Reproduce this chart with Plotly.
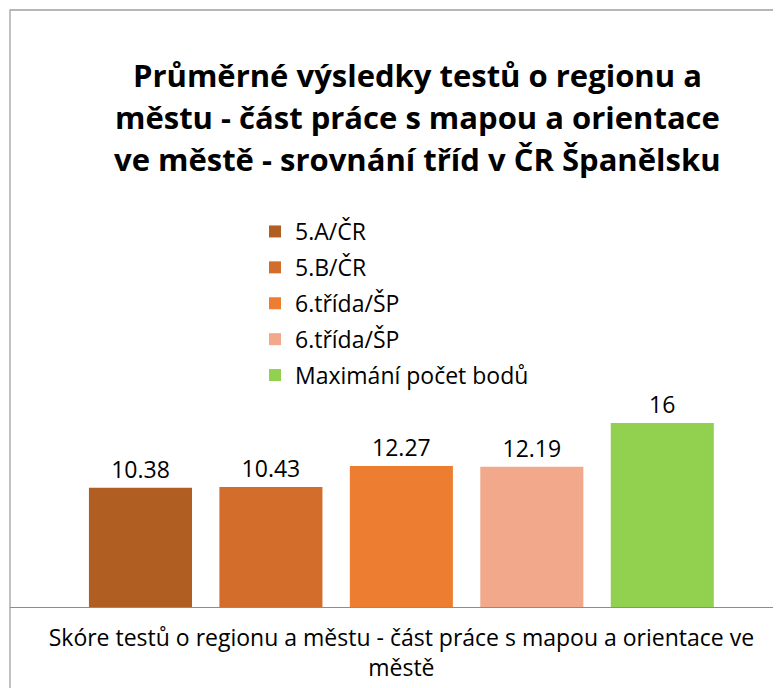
import plotly.graph_objects as go

category = ["Skóre testů o regionu a městu - část práce s mapou a orientace ve<br>městě"]
series_names = ["5.A/ČR", "5.B/ČR", "6.třída/ŠP", "6.třída/ŠP", "Maximání počet bodů"]
series_values = [10.38, 10.43, 12.27, 12.19, 16]
series_labels = ["10.38", "10.43", "12.27", "12.19", "16"]
colors = ["#B15E22", "#D26D2C", "#ED7D31", "#F1A88B", "#92D050"]
title_lines = [
    "Průměrné výsledky testů o regionu a",
    "městu - část práce s mapou a orientace",
    "ve městě - srovnání tříd v ČR Španělsku",
]

FONT = "Open Sans"
OFF = 8  # page body margin
W, H = 781 - OFF, 688 - OFF
L, R, T, B = 10 - OFF, 0, 10 - OFF, 688 - 607
pw, ph = W - L - R, H - T - B

def px(x):
    return (x - OFF - L) / pw

def py(y):
    return (H - B - (y - OFF)) / ph

fig = go.Figure()
for i, (name, val, lab, col) in enumerate(zip(series_names, series_values, series_labels, colors)):
    fig.add_trace(go.Bar(
        x=category, y=[val], name=name, marker=dict(color=col, line=dict(width=0)),
        text=[lab], textposition="outside", cliponaxis=False,
        textfont=dict(family=FONT, size=23, color="#000000"),
        legendgroup=f"g{i}", hoverinfo="skip",
    ))

for i, line in enumerate(title_lines):
    fig.add_annotation(
        text=f"<b>{line}</b>", x=px(417), y=py([75, 117, 159][i]), xref="paper", yref="paper",
        xanchor="center", yanchor="middle", showarrow=False,
        font=dict(family=FONT, size=31, color="#000000"),
    )

fig.add_shape(type="rect", xref="paper", yref="paper", x0=0, x1=1.2, y0=-0.5, y1=1,
              line=dict(color="#A0A0A0", width=1.3), fillcolor="rgba(0,0,0,0)", layer="below")

fig.update_layout(
    width=W, height=H,
    margin=dict(l=L, r=R, t=T, b=B),
    paper_bgcolor="white", plot_bgcolor="white",
    barmode="group", bargap=0.1667, bargroupgap=0.21,
    showlegend=True,
    legend=dict(x=px(255), y=py(210), xanchor="left", yanchor="top",
                font=dict(family=FONT, size=23, color="#000000"),
                traceorder="grouped", tracegroupgap=3, bgcolor="rgba(0,0,0,0)"),
    xaxis=dict(range=[-0.5, 0.485], showline=True, linecolor="#8C8C8C", linewidth=1.3,
               ticks="", ticklabelstandoff=10,
               tickfont=dict(family=FONT, size=23, color="#000000"), fixedrange=True),
    yaxis=dict(range=[0, 597 / 11.5], visible=False, showgrid=False, zeroline=False, fixedrange=True),
    font=dict(family=FONT),
)

fig.write_html("out.html")
